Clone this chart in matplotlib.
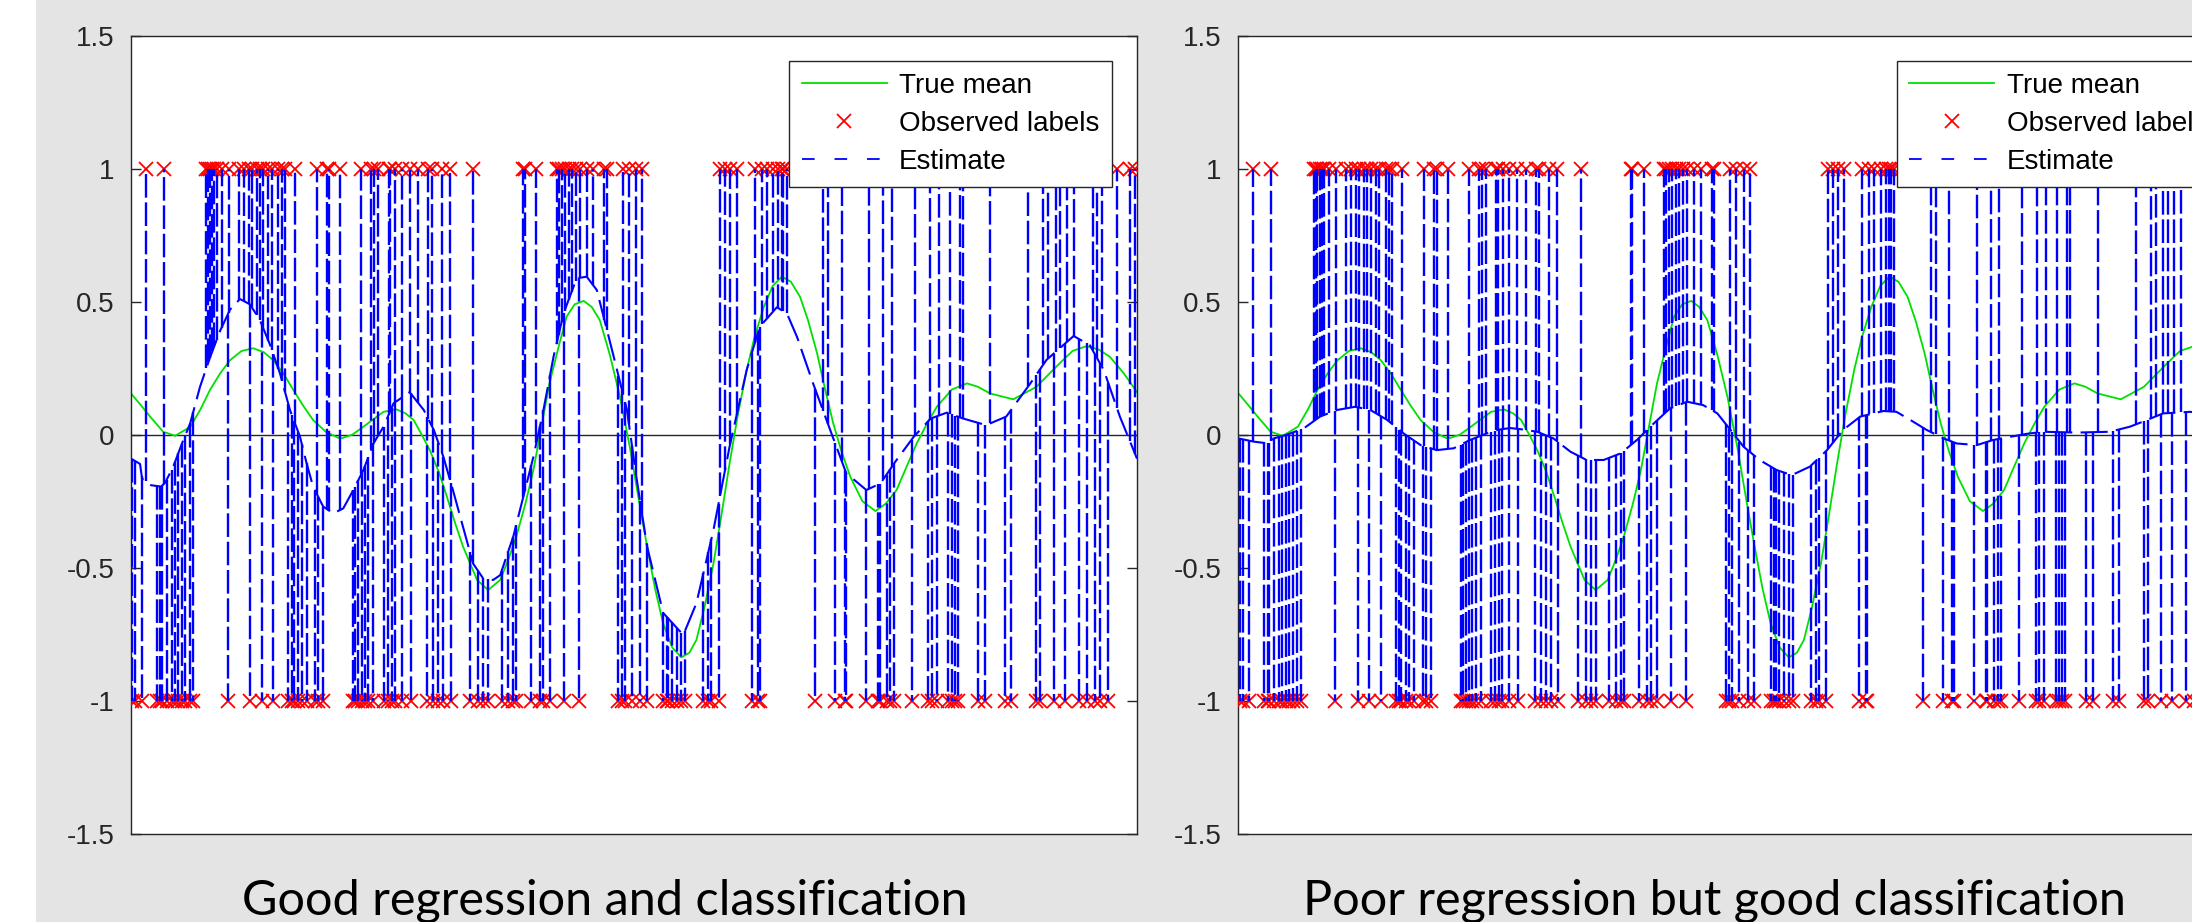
import numpy as np
import matplotlib.pyplot as plt
from matplotlib.lines import Line2D
from matplotlib.patches import Rectangle

# observation locations (x runs 0..100 across each axis), labels +1 and -1
pos_x = [1.46, 3.28, 7.5, 7.7, 7.85, 8.1, 8.3, 8.5, 9.0, 9.7, 10.7, 11.2, 11.7, 12.0,
         12.5, 12.8, 13.15, 13.65, 14.0, 14.65, 15.0, 15.3, 16.3, 18.45, 19.45, 19.7,
         20.8, 22.9, 23.9, 24.2, 24.6, 25.6, 25.75, 26.25, 26.9, 27.7, 28.55, 29.55,
         29.9, 30.9, 31.7, 34.0, 39.0, 39.15, 40.3, 42.3, 42.5, 42.8, 43.1, 43.5, 43.8,
         44.2, 44.6, 45.3, 45.95, 47.05, 47.3, 48.9, 49.5, 50.2, 50.8, 58.55, 59.05,
         59.55, 60.2, 62.0, 62.7, 63.2, 63.85, 64.35, 64.7, 64.85, 65.2, 68.8, 69.3,
         70.65, 73.4, 74.8, 75.6, 77.9, 79.4, 80.3, 81.4, 82.4, 82.7, 85.4, 89.2, 90.7,
         91.2, 91.9, 92.35, 93.0, 93.7, 95.6, 96.0, 96.5, 98.0, 99.3, 99.8]
neg_x = [0.1, 0.4, 1.06, 2.55, 2.9, 3.05, 3.55, 4.05, 4.37, 4.7, 5.04, 5.37, 5.86, 6.19,
         9.6, 11.83, 12.99, 14.15, 15.64, 15.97, 16.2, 16.63, 16.97, 17.46, 18.3, 18.6,
         19.1, 22.1, 22.27, 22.6, 22.95, 23.26, 23.6, 24.1, 25.1, 25.5, 25.9, 26.2, 26.9,
         27.8, 29.45, 30.05, 30.55, 31.05, 31.8, 33.7, 34.5, 35.0, 35.5, 36.85, 37.5,
         38.0, 38.3, 39.8, 40.65, 41.0, 41.65, 43.0, 44.5, 48.45, 48.8, 49.1, 49.8, 50.6,
         51.26, 52.9, 53.25, 53.4, 53.75, 54.25, 54.7, 55.07, 56.9, 57.4, 57.7, 58.4,
         61.7, 62.35, 62.5, 68.0, 70.0, 70.97, 71.1, 73.1, 74.3, 74.45, 75.1, 75.45, 75.8,
         77.6, 79.25, 79.6, 80.1, 81.25, 81.6, 81.9, 82.2, 84.2, 84.9, 86.9, 87.5, 90.0,
         90.4, 91.7, 92.8, 94.2, 95.0, 95.8, 96.3, 97.15]

# true mean
mean_x = [0.0, 1.0, 1.9, 3.2, 4.4, 5.9, 6.9, 7.85, 8.85, 9.84, 11.0, 12.16, 13.2, 14.15,
          15.15, 16.14, 17.1, 18.1, 19.4, 20.8, 22.0, 23.1, 25.1, 26.4, 27.3, 28.1, 28.9,
          29.7, 30.6, 31.4, 32.2, 33.0, 34.4, 35.5, 36.7, 37.5, 38.3, 39.2, 40.0, 40.8,
          41.6, 42.5, 43.3, 44.1, 45.0, 45.8, 46.6, 47.6, 48.6, 49.6, 50.5, 51.3, 52.1,
          52.9, 53.8, 54.7, 55.5, 56.2, 57.0, 57.9, 58.7, 59.5, 60.3, 61.2, 62.0, 62.9,
          63.8, 64.7, 65.6, 66.5, 67.3, 68.2, 69.0, 69.8, 70.6, 71.5, 72.7, 74.0, 75.0,
          76.1, 77.1, 78.1, 79.1, 80.1, 81.6, 83.1, 84.2, 85.4, 87.7, 90.0, 92.3, 93.6,
          95.0, 96.2, 97.3, 98.7, 100.0]
mean_y = [0.155, 0.11, 0.068, 0.011, -0.004, 0.03, 0.095, 0.168, 0.23, 0.28, 0.315, 0.325,
          0.31, 0.28, 0.23, 0.168, 0.11, 0.055, 0.01, -0.015, 0.0, 0.03, 0.086, 0.095,
          0.08, 0.055, 0.0, -0.058, -0.14, -0.233, -0.33, -0.42, -0.546, -0.584, -0.546,
          -0.47, -0.383, -0.26, -0.133, 0.03, 0.193, 0.33, 0.444, 0.49, 0.503, 0.48, 0.431,
          0.3, 0.143, -0.05, -0.25, -0.42, -0.58, -0.71, -0.8, -0.837, -0.82, -0.772, -0.65,
          -0.484, -0.3, -0.108, 0.07, 0.243, 0.37, 0.48, 0.56, 0.594, 0.575, 0.519, 0.43,
          0.306, 0.17, 0.043, -0.06, -0.158, -0.25, -0.287, -0.26, -0.208, -0.12, -0.033,
          0.04, 0.105, 0.17, 0.193, 0.18, 0.155, 0.133, 0.18, 0.268, 0.315, 0.333, 0.32,
          0.293, 0.23, 0.16]

# estimate between the observations: good fit (left) and poor fit (right)
good_x = [0.0, 0.9, 1.1, 2.0, 3.0, 3.4, 4.2, 5.2, 5.86, 6.86, 7.85, 8.85, 9.84, 10.83,
          11.83, 12.82, 13.8, 14.81, 15.8, 16.8, 17.46, 18.1, 19.1, 20.1, 21.1, 22.1,
          23.1, 24.1, 25.1, 26.1, 27.7, 29.1, 30.1, 31.05, 32.0, 33.0, 34.0, 35.0, 36.0,
          36.7, 38.0, 39.0, 40.0, 41.0, 42.0, 43.0, 44.3, 45.3, 46.3, 47.9, 49.3, 50.2,
          51.3, 52.9, 54.9, 56.2, 57.9, 59.5, 61.2, 62.5, 64.2, 65.2, 66.2, 67.8, 69.5,
          71.1, 73.1, 74.5, 76.1, 77.8, 79.5, 81.1, 82.7, 85.0, 87.0, 89.4, 91.0, 93.7,
          95.3, 96.7, 98.3, 100.0]
good_y = [-0.09, -0.11, -0.165, -0.19, -0.195, -0.18, -0.12, -0.02, 0.04, 0.18, 0.29,
          0.39, 0.47, 0.51, 0.49, 0.43, 0.34, 0.23, 0.093, -0.008, -0.108, -0.195, -0.27,
          -0.296, -0.277, -0.208, -0.133, -0.033, 0.03, 0.118, 0.16, 0.093, 0.018, -0.083,
          -0.208, -0.346, -0.484, -0.54, -0.546, -0.528, -0.383, -0.233, -0.083, 0.093,
          0.293, 0.456, 0.588, 0.594, 0.544, 0.306, 0.093, -0.15, -0.42, -0.67, -0.753,
          -0.634, -0.358, -0.045, 0.243, 0.406, 0.479, 0.456, 0.368, 0.193, 0.018, -0.145,
          -0.208, -0.183, -0.095, -0.008, 0.061, 0.083, 0.061, 0.036, 0.068, 0.193, 0.281,
          0.371, 0.337, 0.243, 0.068, -0.09]
poor_x = [0.0, 1.5, 3.0, 3.5, 4.8, 6.5, 8.1, 9.8, 11.6, 13.1, 14.8, 16.4, 18.1, 19.7,
          21.4, 23.0, 24.7, 25.7, 27.0, 28.2, 29.7, 31.3, 33.0, 34.6, 36.3, 38.0, 39.6,
          41.3, 42.9, 44.6, 46.2, 47.6, 48.9, 50.2, 51.8, 53.5, 55.0, 56.8, 58.5, 60.1,
          61.8, 64.1, 65.4, 66.8, 68.4, 70.1, 71.4, 73.4, 75.0, 76.7, 78.3, 80.0, 83.3,
          86.6, 88.6, 89.9, 91.9, 94.6, 100.0]
poor_y = [-0.014, -0.026, -0.033, -0.014, 0.0, 0.024, 0.068, 0.093, 0.105, 0.093, 0.055,
          0.005, -0.039, -0.058, -0.051, -0.02, 0.005, 0.018, 0.025, 0.02, 0.011, -0.014,
          -0.064, -0.095, -0.095, -0.07, -0.02, 0.043, 0.099, 0.124, 0.111, 0.08, 0.018,
          -0.045, -0.095, -0.133, -0.152, -0.12, -0.058, 0.018, 0.068, 0.089, 0.086, 0.055,
          0.018, -0.014, -0.033, -0.039, -0.02, -0.008, 0.003, 0.011, 0.008, 0.011, 0.03,
          0.049, 0.08, 0.086, 0.06]

yticks = [-1.5, -1, -0.5, 0, 0.5, 1, 1.5]
ytick_labels = ["-1.5", "-1", "-0.5", "0", "0.5", "1", "1.5"]
titles = ["Good regression and classification", "Poor regression but good classification"]

GREEN = "#00e000"
BLUE = "#0000ff"
RED = "#ff0000"


def draw_panel(ax, est_x, est_y):
    ax.axhline(0, color="#262626", lw=1.0, zorder=1)
    ax.plot(mean_x, mean_y, color=GREEN, lw=1.3, zorder=2)
    ax.plot(pos_x, np.ones(len(pos_x)), "x", color=RED, ms=10, mew=1.3, zorder=3)
    ax.plot(neg_x, -np.ones(len(neg_x)), "x", color=RED, ms=10, mew=1.3, zorder=3)

    # estimate jumps to the label at every observation
    ax.plot(est_x, est_y, color=BLUE, lw=1.5, linestyle=(0, (13, 4)), zorder=4)
    base_pos = np.interp(pos_x, est_x, est_y)
    base_neg = np.interp(neg_x, est_x, est_y)
    ax.vlines(pos_x, base_pos, 1, color=BLUE, lw=1.7, linestyles=[(0, (10, 2))], zorder=4)
    ax.vlines(neg_x, base_neg, -1, color=BLUE, lw=1.7, linestyles=[(0, (10, 2))], zorder=4)

    ax.set_xlim(0, 100)
    ax.set_ylim(-1.5, 1.5)
    ax.set_xticks([])
    ax.set_yticks(yticks)
    ax.set_yticklabels(ytick_labels)
    ax.tick_params(axis="y", direction="in", length=7, width=1, right=True,
                   labelsize=20, colors="#262626", pad=12)
    for s in ax.spines.values():
        s.set_color("#262626")
        s.set_linewidth(1.0)

    handles = [
        Line2D([], [], color=GREEN, lw=1.3),
        Line2D([], [], color=RED, marker="x", linestyle="none", ms=10, mew=1.3),
        Line2D([], [], color=BLUE, lw=1.3, linestyle=(0, (7, 11))),
    ]
    leg = ax.legend(handles, ["True mean", "Observed labels", "Estimate"],
                    loc="upper right", fontsize=20, handlelength=3.05, handletextpad=0.45,
                    labelspacing=0.42, borderpad=0.45, borderaxespad=0.9,
                    fancybox=False, framealpha=1, edgecolor="#262626")
    leg.get_frame().set_linewidth(1.0)
    leg.set_zorder(10)


plt.rcParams["font.family"] = ["Liberation Sans", "DejaVu Sans"]
fig = plt.figure(figsize=(21.92, 9.22), dpi=100, facecolor="#e4e4e4")
fig.patches.append(Rectangle((0, 0), 36 / 2192, 1, transform=fig.transFigure,
                             facecolor="white", edgecolor="none", zorder=0))

ax1 = fig.add_axes([131 / 2192, 88.3 / 922, 1006 / 2192, 798 / 922])
ax2 = fig.add_axes([1238.5 / 2192, 88.3 / 922, 1006 / 2192, 798 / 922])
draw_panel(ax1, good_x, good_y)
draw_panel(ax2, poor_x, poor_y)

fig.text(605 / 2192, 8 / 922, titles[0], ha="center", va="baseline", fontsize=35,
         family="Lato", color="black")
fig.text(1714 / 2192, 8 / 922, titles[1], ha="center", va="baseline", fontsize=35,
         family="Lato", color="black")

fig.savefig("out.png", dpi=100, facecolor=fig.get_facecolor())
